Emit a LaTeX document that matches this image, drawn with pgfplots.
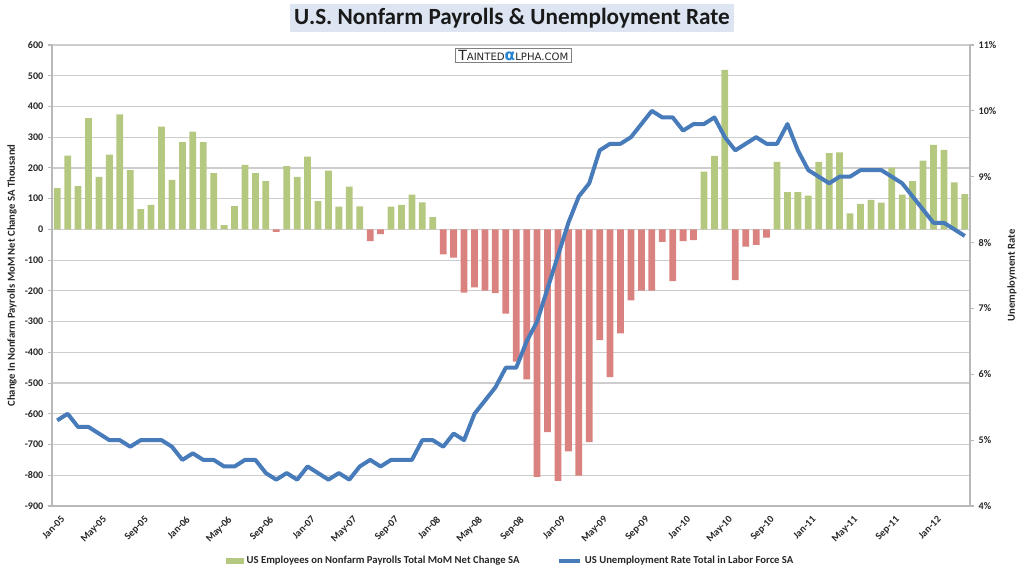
\documentclass[border=0pt]{standalone}
\usepackage{fontspec}
\setmainfont{Carlito}
\newfontfamily\wmfont{DejaVu Sans}
\usepackage{pgfplots}
\usepackage{pgfplotstable}
\pgfplotsset{compat=1.18}

\definecolor{bargreen}{RGB}{181,200,128}
\definecolor{barred}{RGB}{218,130,128}
\definecolor{lineblue}{RGB}{72,123,186}
\definecolor{gridgray}{RGB}{205,205,205}
\definecolor{axisgray}{RGB}{185,185,185}
\definecolor{titlebg}{RGB}{220,229,241}
\definecolor{alphablue}{RGB}{40,130,210}

\newcommand\ticksize{\fontsize{7.6}{9}\selectfont}

% idx 0 = Jan-05 ... idx 87 = Apr-12; pay in thousands, rate in %
\pgfplotstableread{
idx pay rate
0 134 5.3
1 240 5.4
2 141 5.2
3 362 5.2
4 171 5.1
5 243 5.0
6 374 5.0
7 193 4.9
8 66 5.0
9 80 5.0
10 334 5.0
11 161 4.9
12 284 4.7
13 318 4.8
14 284 4.7
15 183 4.7
16 14 4.6
17 76 4.6
18 210 4.7
19 183 4.7
20 157 4.5
21 -8 4.4
22 206 4.5
23 171 4.4
24 237 4.6
25 92 4.5
26 191 4.4
27 74 4.5
28 139 4.4
29 75 4.6
30 -38 4.7
31 -15 4.6
32 74 4.7
33 80 4.7
34 113 4.7
35 88 5.0
36 40 5.0
37 -81 4.9
38 -92 5.1
39 -206 5.0
40 -189 5.4
41 -199 5.6
42 -207 5.8
43 -274 6.1
44 -430 6.1
45 -488 6.5
46 -805 6.8
47 -660 7.3
48 -818 7.8
49 -722 8.3
50 -801 8.7
51 -692 8.9
52 -360 9.4
53 -481 9.5
54 -338 9.5
55 -231 9.6
56 -199 9.8
57 -199 10.0
58 -41 9.9
59 -168 9.9
60 -38 9.7
61 -35 9.8
62 188 9.8
63 239 9.9
64 519 9.6
65 -165 9.4
66 -56 9.5
67 -50 9.6
68 -27 9.5
69 220 9.5
70 121 9.8
71 121 9.4
72 110 9.1
73 220 9.0
74 248 8.9
75 251 9.0
76 52 9.0
77 83 9.1
78 96 9.1
79 87 9.1
80 201 9.0
81 113 8.9
82 157 8.7
83 224 8.5
84 275 8.3
85 259 8.3
86 153 8.2
87 115 8.1
}\datatable

\begin{document}
\begin{tikzpicture}
\useasboundingbox (0,0) rectangle (768pt,429.75pt);

\begin{axis}[
  at={(39pt,50.25pt)}, anchor=south west,
  scale only axis, width=688.5pt, height=345.75pt,
  xmin=-0.5, xmax=87.5, ymin=-900, ymax=600,
  axis x line*=bottom, axis y line*=left,
  axis line style={axisgray, line width=1pt},
  ytick={-900,-800,...,600},
  ymajorgrids, grid style={gridgray, line width=0.9pt},
  xtick={0,4,...,84},
  xticklabels={Jan-05,May-05,Sep-05,Jan-06,May-06,Sep-06,Jan-07,May-07,Sep-07,Jan-08,May-08,Sep-08,Jan-09,May-09,Sep-09,Jan-10,May-10,Sep-10,Jan-11,May-11,Sep-11,Jan-12},
  x tick style={draw=none},
  y tick style={axisgray, line width=0.8pt},
  tick align=outside, major tick length=3pt,
  /pgf/number format/assume math mode=true,
  xticklabel style={rotate=45, anchor=north east, font=\bfseries\ticksize, inner sep=1pt, yshift=-3.5pt, text=black!85},
  yticklabel style={font=\bfseries\ticksize, text=black!85},
  ylabel={Change In Nonfarm Payrolls MoM Net Change SA Thousand},
  ylabel style={at={(axis description cs:-0.0436,0.5)}, anchor=center, font=\bfseries\fontsize{8}{9}\selectfont, text=black!85},
  legend style={at={(0.5,-0.1193)}, anchor=center, draw=none, fill=none,
    font=\bfseries\fontsize{8}{9}\selectfont, text=black!85,
    legend columns=2, /tikz/every even column/.append style={column sep=26pt}},
]
\addplot[ybar, bar width=0.65, bar shift=0pt, fill=bargreen, draw=none,
  restrict y to domain=0:2000,
  legend image code/.code={\fill[bargreen] (0pt,-2pt) rectangle (13.5pt,2pt);}]
  table[x=idx, y=pay] {\datatable};
\addlegendentry{US Employees on Nonfarm Payrolls Total MoM Net Change SA}
\addplot[ybar, bar width=0.65, bar shift=0pt, fill=barred, draw=none,
  restrict y to domain=-2000:0, forget plot]
  table[x=idx, y=pay] {\datatable};
\addlegendimage{lineblue, line width=3pt,
  legend image code/.code={\draw[lineblue, line width=3pt] (0pt,0pt) -- (16pt,0pt);}}
\addlegendentry{US Unemployment Rate Total in Labor Force SA}
\end{axis}

\begin{axis}[
  at={(39pt,50.25pt)}, anchor=south west,
  scale only axis, width=688.5pt, height=345.75pt,
  xmin=-0.5, xmax=87.5, ymin=4, ymax=11,
  axis y line*=right, axis x line=none,
  axis line style={axisgray, line width=1pt},
  ytick={4,5,...,11},
  yticklabel={\pgfmathprintnumber{\tick}\%},
  y tick style={axisgray, line width=0.8pt},
  tick align=outside, major tick length=3pt,
  /pgf/number format/assume math mode=true,
  yticklabel style={font=\bfseries\ticksize, text=black!85},
  ylabel={Unemployment Rate},
  ylabel style={at={(axis description cs:1.0458,0.5)}, anchor=center, font=\bfseries\fontsize{8}{9}\selectfont, text=black!85},
]
\addplot[lineblue, line width=3pt, line join=round, no markers]
  table[x=idx, y=rate] {\datatable};
\end{axis}

\node[fill=titlebg, inner xsep=3pt, inner ysep=3pt, font=\bfseries\fontsize{17.4}{20}\selectfont, text=black!90]
  at (384pt,416.25pt) {U.S. Nonfarm Payrolls \& Unemployment Rate};

\node[draw=gray, fill=white, line width=0.6pt, inner xsep=2.5pt, inner ysep=1.5pt, text=black!85]
  at (385pt,388pt) {\wmfont{\fontsize{10.5}{11}\selectfont T}{\fontsize{7.6}{9}\selectfont AINTED}{\fontsize{11.5}{11}\selectfont\color{alphablue}\bfseries α}{\fontsize{7.6}{9}\selectfont LPHA.COM}};
\end{tikzpicture}
\end{document}
